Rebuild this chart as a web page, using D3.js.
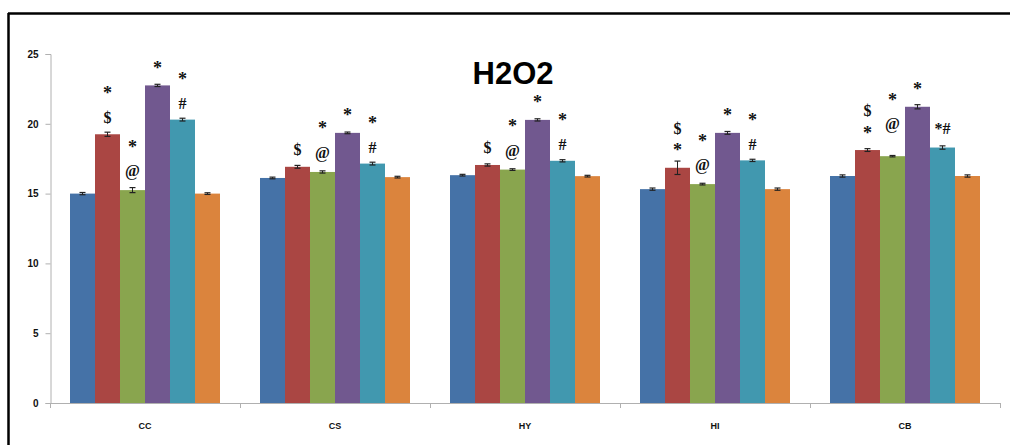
<!DOCTYPE html>
<html>
<head>
<meta charset="utf-8">
<script src="https://cdn.jsdelivr.net/npm/d3@7"></script>
<style>
  html, body { margin: 0; padding: 0; background: #fff; }
  svg { display: block; }
</style>
</head>
<body>
<svg id="chart" width="1010" height="445"></svg>
<script>
// ---- Data ----
const categories = ["CC", "CS", "HY", "HI", "CB"];
const seriesNames = ["S1", "S2", "S3", "S4", "S5", "S6"];
const seriesColors = ["#4572A7", "#AA4643", "#89A54E", "#71588F", "#4198AF", "#DB843D"];
// values per category (6 series each)
const valCC = [15.0, 19.25, 15.25, 22.75, 20.3, 15.0];
const valCS = [16.12, 16.92, 16.55, 19.35, 17.15, 16.18];
const valHY = [16.32, 17.05, 16.72, 20.28, 17.35, 16.25];
const valHI = [15.32, 16.85, 15.68, 19.35, 17.38, 15.32];
const valCB = [16.26, 18.12, 17.68, 21.22, 18.3, 16.26];
// error bars (+/-)
const errCC = [0.08, 0.15, 0.18, 0.08, 0.1, 0.06];
const errCS = [0.06, 0.1, 0.08, 0.06, 0.1, 0.06];
const errHY = [0.06, 0.08, 0.06, 0.08, 0.08, 0.06];
const errHI = [0.08, 0.48, 0.06, 0.1, 0.08, 0.08];
const errCB = [0.08, 0.1, 0.05, 0.15, 0.12, 0.08];
// significance marks, listed bottom to top
const markCC = [[], ["$", "*"], ["@", "*"], ["*"], ["#", "*"], []];
const markCS = [[], ["$"], ["@", "*"], ["*"], ["#", "*"], []];
const markHY = [[], ["$"], ["@", "*"], ["*"], ["#", "*"], []];
const markHI = [[], ["*", "$"], ["@", "*"], ["*"], ["#", "*"], []];
const markCB = [[], ["*", "$"], ["@", "*"], ["*"], ["*#"], []];
const yTicks = [0, 5, 10, 15, 20, 25];
const title = "H2O2";

const values = [valCC, valCS, valHY, valHI, valCB];
const errors = [errCC, errCS, errHY, errHI, errCB];
const marks = [markCC, markCS, markHY, markHI, markCB];

const rows = [];
categories.forEach((c, i) => {
  seriesNames.forEach((s, j) => {
    rows.push({cat: c, series: s, si: j, value: values[i][j], err: errors[i][j], marks: marks[i][j]});
  });
});

// ---- Drawing ----
const svg = d3.select("#chart");
const y = d3.scaleLinear().domain([0, 25]).range([403, 54]);
const x0 = d3.scaleBand().domain(categories).range([50, 1000]).paddingInner(0).paddingOuter(0);
const x1 = d3.scaleBand().domain(seriesNames).range([0, x0.bandwidth()]).paddingInner(0).paddingOuter(0.8);

// frame
svg.append("line").attr("x1", 8).attr("x2", 1010).attr("y1", 13.5).attr("y2", 13.5)
  .attr("stroke", "#000").attr("stroke-width", 2.5);
svg.append("line").attr("x1", 8.5).attr("x2", 8.5).attr("y1", 13).attr("y2", 445)
  .attr("stroke", "#000").attr("stroke-width", 2.5);

// y axis
const yAxis = svg.append("g").attr("transform", "translate(50.5,0)")
  .call(d3.axisLeft(y).tickValues(yTicks).tickSize(5).tickPadding(7).tickFormat(d3.format("d")));
yAxis.select(".domain").attr("stroke", "#b0b0b0");
yAxis.selectAll(".tick line").attr("stroke", "#b0b0b0");
yAxis.selectAll("text").attr("font-family", "Liberation Sans, Arial, sans-serif")
  .attr("font-size", 10).attr("font-weight", "bold").attr("fill", "#111");

// bars
const groups = svg.append("g").selectAll("g").data(categories).join("g")
  .attr("transform", d => `translate(${x0(d)},0)`);

groups.selectAll("rect")
  .data(c => rows.filter(r => r.cat === c))
  .join("rect")
  .attr("x", d => x1(d.series))
  .attr("width", x1.bandwidth())
  .attr("y", d => y(d.value))
  .attr("height", d => y(0) - y(d.value))
  .attr("fill", d => seriesColors[d.si]);

// error bars
const eb = groups.selectAll("g.err")
  .data(c => rows.filter(r => r.cat === c))
  .join("g").attr("class", "err");
eb.append("line")
  .attr("x1", d => x1(d.series) + x1.bandwidth() / 2)
  .attr("x2", d => x1(d.series) + x1.bandwidth() / 2)
  .attr("y1", d => y(d.value + d.err)).attr("y2", d => y(d.value - d.err))
  .attr("stroke", "#222").attr("stroke-width", 1);
[1, -1].forEach(sgn => {
  eb.append("line")
    .attr("x1", d => x1(d.series) + x1.bandwidth() / 2 - 3)
    .attr("x2", d => x1(d.series) + x1.bandwidth() / 2 + 3)
    .attr("y1", d => y(d.value + sgn * d.err)).attr("y2", d => y(d.value + sgn * d.err))
    .attr("stroke", "#222").attr("stroke-width", 1.2);
});

// significance marks (visual centre offsets above bar top)
const firstOffset = {"$": 17, "@": 19, "*": 20, "#": 16, "*#": 19};
const extraLift = {"CB|S3": 13};
groups.each(function(c) {
  const g = d3.select(this);
  rows.filter(r => r.cat === c).forEach(r => {
    let off = 0;
    r.marks.forEach((m, k) => {
      if (k === 0) off = firstOffset[m] + (extraLift[r.cat + "|" + r.series] || 0);
      else off += (r.marks[k - 1] === "*" ? 19 : 27);
      const cy = y(r.value) - off;
      const isStar = m === "*";
      const fs = isStar ? 18 : 16;
      const base = isStar ? cy + 0.47 * fs : cy + 0.33 * fs;
      g.append("text")
        .attr("x", x1(r.series) + x1.bandwidth() / 2)
        .attr("y", base)
        .attr("text-anchor", "middle")
        .attr("font-family", "Liberation Serif, Times New Roman, serif")
        .attr("font-weight", "bold")
        .attr("font-size", fs)
        .attr("fill", "#111")
        .text(m);
    });
  });
});

// x axis
const xAxisG = svg.append("g");
xAxisG.append("line").attr("x1", 50).attr("x2", 1000).attr("y1", 403.5).attr("y2", 403.5)
  .attr("stroke", "#b0b0b0");
const bounds = categories.map(c => x0(c)).concat([x0(categories[categories.length - 1]) + x0.bandwidth()]);
xAxisG.selectAll("line.tk").data(bounds).join("line").attr("class", "tk")
  .attr("x1", d => d + 0.5).attr("x2", d => d + 0.5).attr("y1", 403).attr("y2", 408)
  .attr("stroke", "#b0b0b0");
xAxisG.selectAll("text").data(categories).join("text")
  .attr("x", d => x0(d) + x0.bandwidth() / 2)
  .attr("y", 429)
  .attr("text-anchor", "middle")
  .attr("font-family", "Liberation Sans, Arial, sans-serif")
  .attr("font-size", 9).attr("font-weight", "bold").attr("fill", "#111")
  .text(d => d);

// title
svg.append("text").attr("x", 513).attr("y", 84).attr("text-anchor", "middle")
  .attr("font-family", "Liberation Sans, Arial, sans-serif")
  .attr("font-size", 31).attr("font-weight", "bold").attr("fill", "#000")
  .text(title);
</script>
</body>
</html>
